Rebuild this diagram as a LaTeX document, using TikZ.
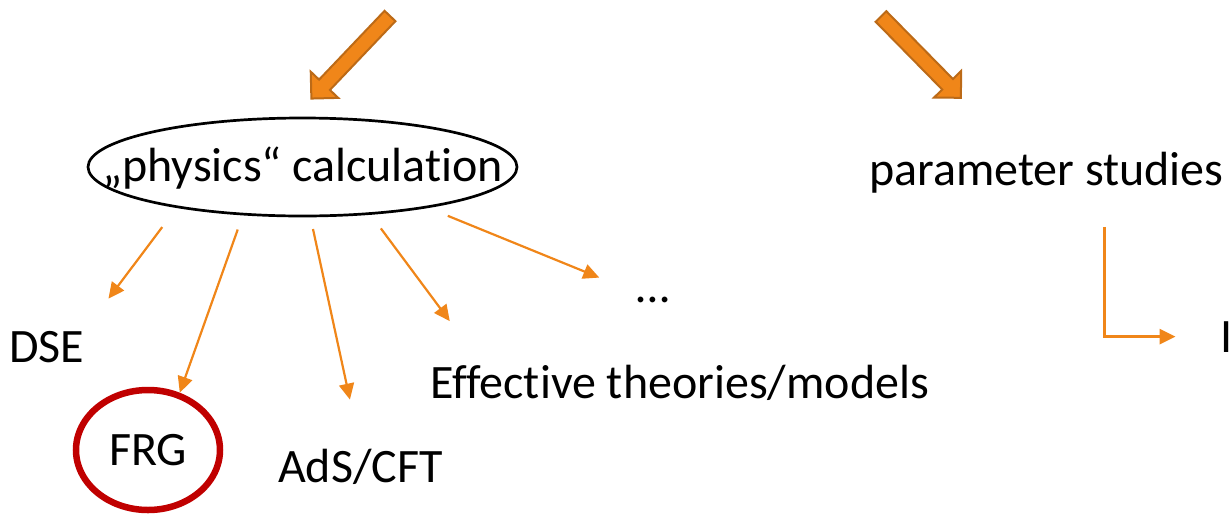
\documentclass[tikz,border=0pt]{standalone}
\usepackage{fontspec}
\setmainfont{Carlito}[Ligatures=CommonOff]
\usepackage{tikz}
\usetikzlibrary{arrows.meta,shapes.geometric}
\definecolor{Naranja}{HTML}{F08619}
\definecolor{NaranjaOsc}{HTML}{BC6A17}
\definecolor{RojoOsc}{HTML}{C00000}
\tikzset{
  texto/.style  = {inner sep=0pt, font=\fontsize{48}{57}\selectfont},
  elipse/.style = {draw, ellipse, line width=2.7pt, inner sep=0pt,
                   minimum width=429pt, minimum height=98pt},
  marca/.style  = {texto, draw=RojoOsc, ellipse, line width=6.5pt,
                   minimum width=144pt, minimum height=120pt},
  rama/.style   = {-{Triangle[length=16pt,width=15pt]}, draw=Naranja,
                   line width=2.2pt},
  % flecha gruesa con borde, apunta en la direccion +x
  gorda/.pic    = {\draw[NaranjaOsc, fill=Naranja, line width=2pt, line join=miter]
                   (0,-7.5) -- (95,-7.5) -- (95,-19) -- (114,0) -- (95,19)
                   -- (95,7.5) -- (0,7.5) -- cycle;},
}

\begin{document}
\begin{tikzpicture}[x=1pt, y=1pt]
  \useasboundingbox (0,0) rectangle (1229,-515);
  \clip (0,0) rectangle (1229,-515);
  \pic[rotate=226.4] at (390,-16) {gorda};
  \pic[rotate=-45.5] at (881,-16.5) {gorda};
  \node[elipse] (phys) at (302.5,-167) {};
  \node[texto, anchor=base] (physlbl) at ([yshift=-14pt]phys.center) {„physics“ calculation};
  \node[texto, anchor=base west] (pstud) at (869,-185) {parameter studies};
  \node[texto, anchor=base west] (dse) at (9,-362) {DSE};
  \node[marca] (frg) at (148,-450) {FRG};
  \node[texto, anchor=base west] (ads) at (278,-482) {AdS/CFT};
  \node[texto, anchor=base west] (eff) at (430,-398) {Effective theories/models};
  \node[texto, anchor=base] (dots) at (653,-302) {…};
  \node[texto, anchor=base west] (cut) at (1220.5,-352) {I};
  \draw[rama, shorten <=24pt, shorten >=40pt] (phys.198) -- (dse.north east);
  \draw[rama, shorten <=15pt] (phys.219) -- (frg.61.5);
  \draw[rama, shorten <=12pt, shorten >=50pt] (phys.279) -- (ads.north);
  \draw[rama, shorten <=17pt, shorten >=54pt] (phys.325) -- ([xshift=52pt]eff.north west);
  \draw[rama, shorten <=21pt, shorten >=58pt] (phys.342.6) -- (dots.center);
  \draw[rama, line width=3pt, shorten <=34pt, shorten >=45pt]
    ([xshift=58pt]pstud.south) |- (cut.west);
\end{tikzpicture}
\end{document}
